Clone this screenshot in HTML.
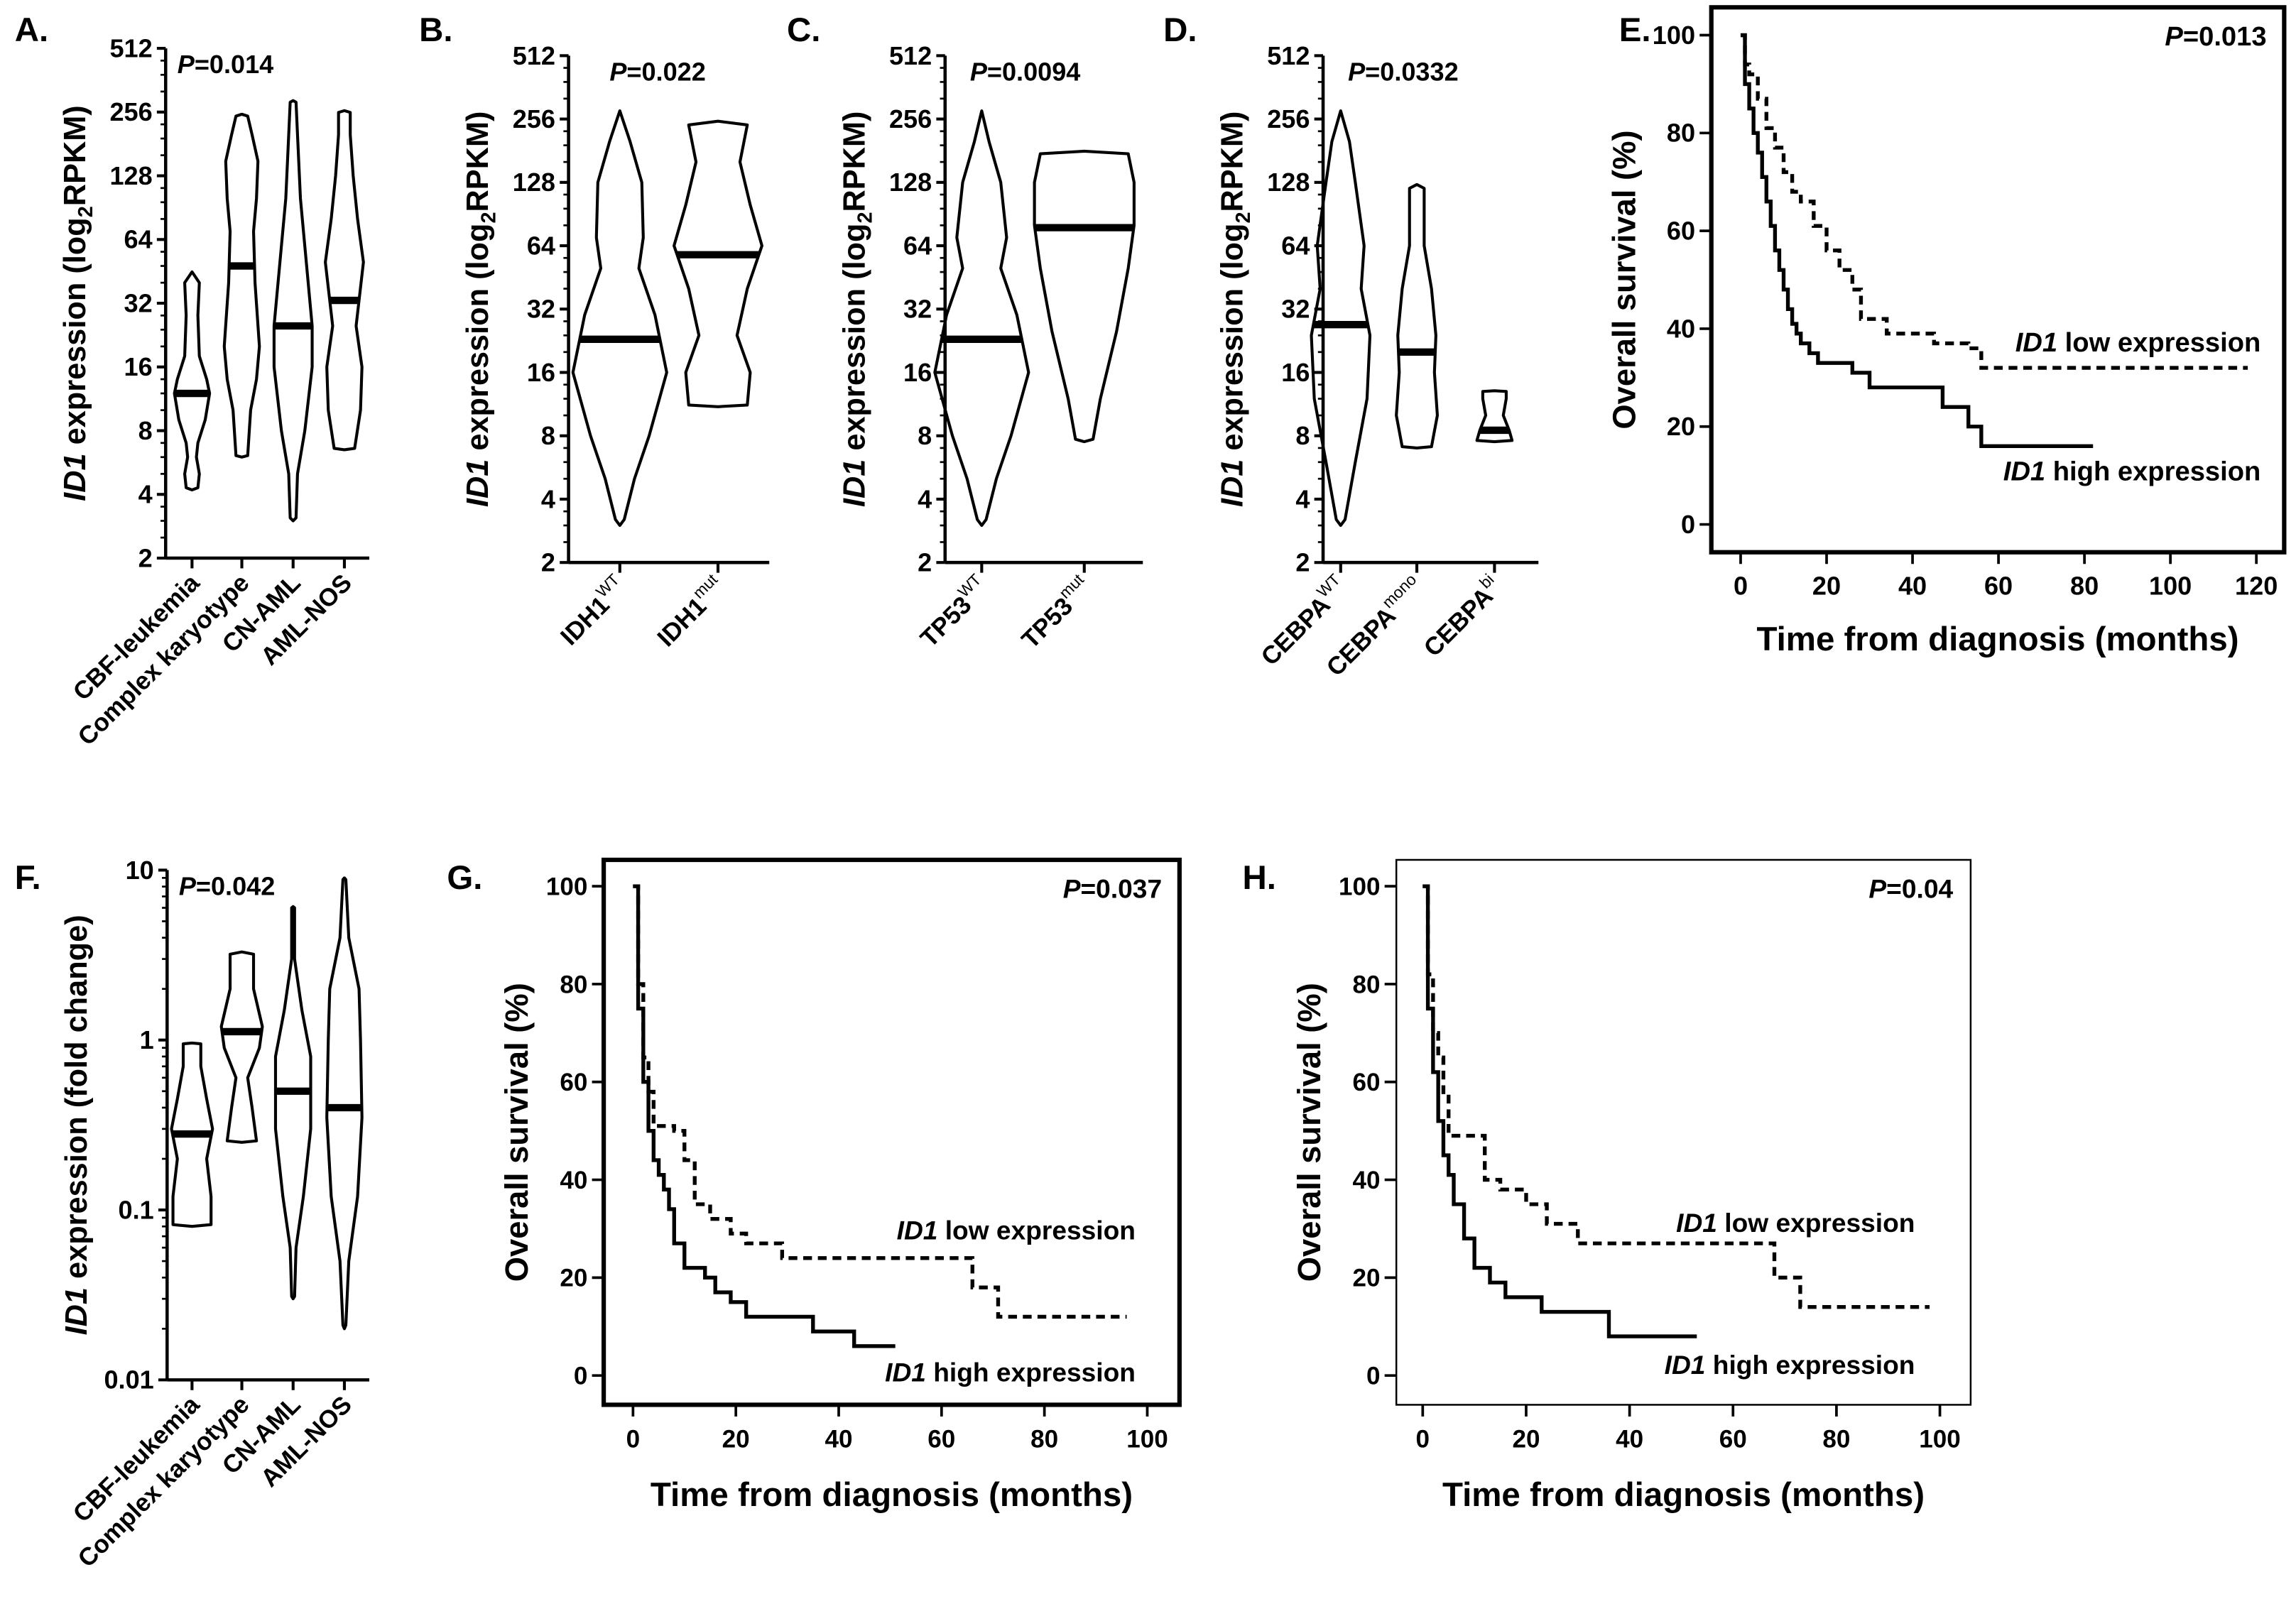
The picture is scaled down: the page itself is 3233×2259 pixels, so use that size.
<!DOCTYPE html>
<html><head><meta charset="utf-8"><style>
html,body{margin:0;padding:0;background:#fff}
svg{display:block}
text{font-family:"Liberation Sans",Arial,sans-serif;font-weight:bold;fill:#000}
</style></head><body>
<svg id="fig" width="3233" height="2259" viewBox="0 0 1567 1095" xmlns="http://www.w3.org/2000/svg"></svg>
<script>
// ---------- DATA ----------
const ticksLog2 = [2,4,8,16,32,64,128,256,512];
const ticksLog10 = [0.01,0.1,1,10];
const catsA = ["CBF-leukemia","Complex karyotype","CN-AML","AML-NOS"];
const violA_CBF = [[4.2,0],[4.3,4],[5,5],[6,3],[7,4],[9,9],[12,12],[14,10],[18,5],[28,4],[40,5],[45,0]];
const violA_CK = [[6,0],[6.1,4],[10,6],[14,10],[20,12],[40,9],[70,8],[100,10],[150,11],[200,7],[245,4],[250,0]];
const violA_CN = [[3,0],[3.1,2],[5,3],[8,8],[16,13],[25,13],[50,9],[100,5],[200,3],[285,2],[290,0]];
const violA_NOS = [[6.5,0],[6.6,7],[10,11],[16,12],[25,8],[33,10],[50,13],[80,9],[128,6],[200,4],[255,4],[260,0]];
const medA = [12,48,25,33];
const catsB = ["IDH1","IDH1"]; const supB = ["WT","mut"];
const violB_WT = [[3,0],[3.2,3],[5,10],[8,20],[16,32],[30,24],[50,13],[70,16],[128,15],[200,7],[280,0]];
const violB_MUT = [[11,0],[11.2,20],[16,22],[24,13],[40,20],[64,30],[100,22],[160,15],[240,20],[250,0]];
const medB = [23,58];
const supC = ["WT","mut"];
const violC_WT = [[3,0],[3.2,3],[5,10],[8,20],[16,32],[30,24],[50,13],[70,17],[128,13],[200,5],[280,0]];
const violC_MUT = [[7.5,0],[7.7,6],[12,11],[25,22],[50,30],[80,34],[128,34],[175,30],[180,0]];
const medC = [23,78];
const supD = ["WT","mono","bi"];
const violD_WT = [[3,0],[3.2,3],[6,10],[12,18],[24,20],[40,14],[64,16],[128,10],[200,6],[280,0]];
const violD_MONO = [[7,0],[7.1,10],[10,14],[16,12],[24,13],[40,10],[64,5],[120,5],[125,0]];
const violD_BI = [[7.5,0],[7.6,12],[8.5,10],[10,6],[12,8],[13,8],[13.1,0]];
const medD = [27,20,8.5];
const violF_CBF = [[0.08,0],[0.082,13],[0.12,13],[0.2,10],[0.3,14],[0.45,10],[0.7,6],[0.95,6],[0.96,0]];
const violF_CK = [[0.25,0],[0.255,10],[0.4,7],[0.6,4],[0.9,12],[1.2,14],[2,8],[3.2,8],[3.3,0]];
const violF_CN = [[0.03,0],[0.031,1],[0.06,2],[0.12,7],[0.3,12],[0.8,12],[1.5,6],[3,1],[6,1],[6.1,0]];
const violF_NOS = [[0.02,0],[0.021,1],[0.05,3],[0.12,9],[0.35,12],[1,11],[2,10],[4,3],[8.8,1],[9,0]];
const medF = [0.28,1.12,0.5,0.4];
const kmTicksX = [0,20,40,60,80,100,120];
const kmTicksY = [0,20,40,60,80,100];
const E_highT = [0,1,2,3,4,5,6,7,8,9,10,11,12,13,14,16,18,22,26,30,47,53,56,82];
const E_highS = [100,90,85,80,76,71,66,61,56,52,48,44,41,39,37,35,33,33,31,28,24,20,16,16];
const E_lowT = [0,1,2,4,6,8,10,12,14,17,20,23,26,28,34,45,53,56,118];
const E_lowS = [100,94,92,87,81,77,72,68,66,61,56,52,48,42,39,37,36,32,32];
const G_highT = [0,1,2,3,4,5,6,7,8,10,14,16,19,22,35,43,51];
const G_highS = [100,75,60,50,44,41,38,34,27,22,20,17,15,12,9,6,6];
const G_lowT = [0,1,2,3,4,8,10,12,15,19,22,29,66,71,96];
const G_lowS = [100,80,65,58,51,50,44,35,32,29,27,24,18,12,12];
const H_highT = [0,1,2,3,4,5,6,8,10,13,16,23,36,53];
const H_highS = [100,75,62,52,45,41,35,28,22,19,16,13,8,8];
const H_lowT = [0,1,2,3,4,5,12,15,20,24,30,68,73,98];
const H_lowS = [100,82,70,65,57,49,40,38,35,31,27,20,14,14];

// ---------- HELPERS ----------
const NS="http://www.w3.org/2000/svg";
const svg=document.getElementById('fig');
function el(tag,attrs,parent){const e=document.createElementNS(NS,tag);for(const k in attrs)e.setAttribute(k,attrs[k]);(parent||svg).appendChild(e);return e;}
function txt(s,x,y,size,parent,anchor,extra){const t=el('text',Object.assign({x:x,y:y,'font-size':size,'text-anchor':anchor||'start'},extra||{}),parent);t.textContent=s;return t;}

function violinPanel(name,ax,yTop,yBot,log,tmin,tmax,ticks,tickLabels,xEnd,centers,viols,meds,titleParts,pval,pX,labels,sups){
  const g=el('g',{});
  
  
  const lo=log(tmin),hi=log(tmax);
  const y=v=>yBot-(log(v)-lo)/(hi-lo)*(yBot-yTop);
  const yaxis=el('line',{x1:ax,y1:yTop,x2:ax,y2:yBot,stroke:'#000','stroke-width':2.2},g);
  
  
  const xaxis=el('line',{x1:ax,y1:yBot,x2:xEnd,y2:yBot,stroke:'#000','stroke-width':2.2},g);
  
  
  ticks.forEach((t,i)=>{
    el('line',{x1:ax-6,y1:y(t),x2:ax,y2:y(t),stroke:'#000','stroke-width':2},g);
    const lb=txt(tickLabels[i],ax-9,y(t)+6,17.5,g,'end');
    
    
  });
  for(let i=0;i<ticks.length-1;i++){
    const a=ticks[i],b=ticks[i+1];
    if(b/a>=9){for(let k=2;k<=9;k++)el('line',{x1:ax-3.5,y1:y(a*k),x2:ax,y2:y(a*k),stroke:'#000','stroke-width':1.3},g);}
    else{for(let k=1;k<4;k++)el('line',{x1:ax-3.5,y1:y(a*(1+k/4)),x2:ax,y2:y(a*(1+k/4)),stroke:'#000','stroke-width':1.3},g);}
  }
  centers.forEach((cx,i)=>{
    el('line',{x1:cx,y1:yBot,x2:cx,y2:yBot+7,stroke:'#000','stroke-width':2},g);
    const prof=viols[i];
    let pts=prof.map(p=>[cx+p[1],y(p[0])]);
    let back=prof.slice().reverse().map(p=>[cx-p[1],y(p[0])]);
    const all=pts.concat(back);
    const path=el('path',{d:'M'+all.map(p=>p[0].toFixed(2)+','+p[1].toFixed(2)).join('L')+'Z',fill:'none',stroke:'#000','stroke-width':2,'stroke-linejoin':'round'},g);
    
    
    const m=meds[i];let w=0;
    for(let k=0;k<prof.length-1;k++){if(prof[k][0]<=m&&prof[k+1][0]>=m){const f=(log(m)-log(prof[k][0]))/(log(prof[k+1][0])-log(prof[k][0]));w=prof[k][1]+f*(prof[k+1][1]-prof[k][1]);}}
    const md=el('line',{x1:cx-w,y1:y(m),x2:cx+w,y2:y(m),stroke:'#000','stroke-width':5},g);
    
    
    const lg=el('g',{transform:`translate(${cx+6},${yBot+18}) rotate(-45)`},g);
    const lt=txt(labels[i],0,0,17,lg,'end');
    if(sups&&sups[i]){const ts=el('tspan',{dy:-8,'font-size':11,'font-weight':'normal'},lt);ts.textContent=sups[i];}
    
    
  });
  const ty=(yTop+yBot)/2;
  const tg=el('g',{transform:`translate(${ax-55},${ty}) rotate(-90)`},g);
  const tt=el('text',{x:0,y:0,'font-size':21,'text-anchor':'middle','font-weight':'normal'},tg);
  
  
  titleParts.forEach(p=>{const s=el('tspan',p.a||{},tt);s.textContent=p.t;});
  const pt=el('text',{x:pX,y:yTop+17,'font-size':17.5},g);
  
  
  const pi=el('tspan',{'font-style':'italic'},pt);pi.textContent='P';
  const pr=el('tspan',{},pt);pr.textContent='='+pval;
}
const log2=v=>Math.log2(v), log10=v=>Math.log10(v);
const rpkmTitle=[{t:'ID1',a:{'font-style':'italic'}},{t:' expression (log'},{t:'2',a:{'font-size':14,dy:5}},{t:'RPKM)',a:{dy:-5}}];
const foldTitle=[{t:'ID1',a:{'font-style':'italic'}},{t:' expression (fold change)'}];
const l2lab=ticksLog2.map(String);

violinPanel('panel-a-violin',113,33,381,log2,2,512,ticksLog2,l2lab,252,[131,165,200,235],[violA_CBF,violA_CK,violA_CN,violA_NOS],medA,rpkmTitle,'0.014',121,catsA,null);
violinPanel('panel-b-violin',388,38,384,log2,2,512,ticksLog2,l2lab,525,[423,490],[violB_WT,violB_MUT],medB,rpkmTitle,'0.022',416,catsB,supB);
violinPanel('panel-c-violin',645,38,384,log2,2,512,ticksLog2,l2lab,780,[670,740],[violC_WT,violC_MUT],medC,rpkmTitle,'0.0094',662,["TP53","TP53"],supC);
violinPanel('panel-d-violin',903,38,384,log2,2,512,ticksLog2,l2lab,1050,[915,967,1020],[violD_WT,violD_MONO,violD_BI],medD,rpkmTitle,'0.0332',920,["CEBPA","CEBPA","CEBPA"],supD);
violinPanel('panel-f-violin',114,594,942,log10,0.01,10,ticksLog10,["0.01","0.1","1","10"],252,[131,165,200,235],[violF_CBF,violF_CK,violF_CN,violF_NOS],medF,foldTitle,'0.042',122,catsA,null);

function kmPanel(name,box,x0,x100,xmax,y0,y100,ticksX,highT,highS,lowT,lowS,pval,lowLab,highLab,fs,boxW,titleY,titleFs){
  const g=el('g',{});
  
  
  const X=v=>x0+v/xmax*(x100-x0), Y=v=>y0-v/100*(y0-y100);
  const fr=el('rect',{x:box[0],y:box[1],width:box[2]-box[0],height:box[3]-box[1],fill:'none',stroke:'#000','stroke-width':boxW},g);
  
  
  ticksX.forEach(t=>{el('line',{x1:X(t),y1:box[3],x2:X(t),y2:box[3]+8,stroke:'#000','stroke-width':1.8},g);
    const l=txt(String(t),X(t),box[3]+29,fs,g,'middle');
    
    });
  kmTicksY.forEach(t=>{el('line',{x1:box[0]-8,y1:Y(t),x2:box[0],y2:Y(t),stroke:'#000','stroke-width':1.8},g);
    const l=txt(String(t),box[0]-11,Y(t)+6,fs,g,'end');
    
    });
  function step(T,S){let d='M'+X(T[0])+','+Y(S[0]);for(let i=1;i<T.length;i++){d+='H'+X(T[i])+'V'+Y(S[i]);}return d;}
  const hp=el('path',{d:step(highT,highS),fill:'none',stroke:'#000','stroke-width':2.6},g);
  
  
  const lp=el('path',{d:step(lowT,lowS),fill:'none',stroke:'#000','stroke-width':2.6,'stroke-dasharray':'6,4'},g);
  
  
  function lab(parts,x,y,dn){const t=el('text',{x:x,y:y,'font-size':fs+1,'text-anchor':'end'},g);
    
    
    parts.forEach((p,i)=>{const s=el('tspan',i==0?{'font-style':'italic'}:{},t);s.textContent=p;});}
  lab(['ID1',' low expression'],lowLab[0],lowLab[1],'legend-low-expression');
  lab(['ID1',' high expression'],highLab[0],highLab[1],'legend-high-expression');
  lab(['P','='+pval],box[2]-12,box[1]+26,'p-value');
  const xt=txt('Time from diagnosis (months)',(box[0]+box[2])/2,titleY,titleFs,g,'middle');
  
  
  const tg=el('g',{transform:`translate(${box[0]-52},${(box[1]+box[3])/2}) rotate(-90)`},g);
  const yt=txt('Overall survival (%)',0,0,titleFs-1,tg,'middle');
  
  
}
kmPanel('panel-e-km',[1168,5,1559,377],1188,1540,120,358,24,kmTicksX,E_highT,E_highS,E_lowT,E_lowS,'0.013',[1543,240],[1543,328],17.5,3,444,23);
kmPanel('panel-g-km',[412,587,805,959],432,783,100,939,605,[0,20,40,60,80,100],G_highT,G_highS,G_lowT,G_lowS,'0.037',[775,846],[775,943],17,3,1028,23);
kmPanel('panel-h-km',[953,587,1345,959],971,1324,100,939,605,[0,20,40,60,80,100],H_highT,H_highS,H_lowT,H_lowS,'0.04',[1307,841],[1307,938],17,1.2,1028,23);

[['A.',10,28],['B.',286,28],['C.',537,28],['D.',794,28],['E.',1105,28],['F.',10,607],['G.',305,607],['H.',848,607]].forEach(p=>{
  const t=txt(p[0],p[1],p[2],23,svg,'start');
  
  
});
</script>
</body></html>
